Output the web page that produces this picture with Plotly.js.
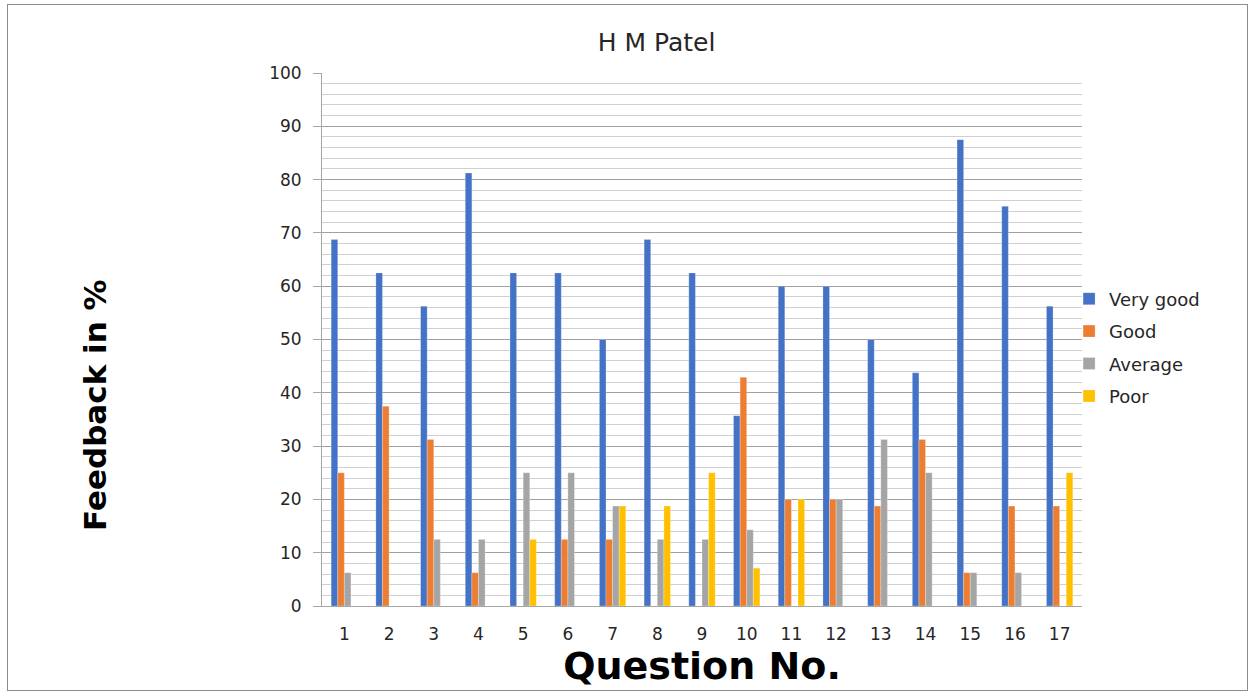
<!DOCTYPE html>
<html>
<head>
<meta charset="utf-8">
<script src="https://cdn.plot.ly/plotly-3.0.1.min.js"></script>
<style>
  html, body { margin: 0; padding: 0; background: #ffffff; }
  #wrap { position: relative; width: 1253px; height: 693px; }
  #chart { width: 1253px; height: 693px; }
  #frame { position: absolute; left: 7px; top: 4px; width: 1239px; height: 685px; border: 1px solid #8c8c8c; pointer-events: none; }
</style>
</head>
<body>
<div id="wrap">
  <div id="chart"></div>
  <div id="frame"></div>
</div>
<script>
const questions = ['1','2','3','4','5','6','7','8','9','10','11','12','13','14','15','16','17'];
const veryGood = [68.75, 62.5, 56.25, 81.25, 62.5, 62.5, 50, 68.75, 62.5, 35.7, 60, 60, 50, 43.75, 87.5, 75, 56.25];
const good     = [25, 37.5, 31.25, 6.25, 0, 12.5, 12.5, 0, 0, 42.9, 20, 20, 18.75, 31.25, 6.25, 18.75, 18.75];
const average  = [6.25, 0, 12.5, 12.5, 25, 25, 18.75, 12.5, 12.5, 14.3, 0, 20, 31.25, 25, 6.25, 6.25, 0];
const poor     = [0, 0, 0, 0, 12.5, 0, 18.75, 18.75, 25, 7.1, 20, 0, 0, 0, 0, 0, 25];

const seriesNames = ['Very good', 'Good', 'Average', 'Poor'];
const seriesColors = ['#4472C4', '#ED7D31', '#A5A5A5', '#FFC000'];
const seriesData = [veryGood, good, average, poor];

const traces = seriesData.map((vals, i) => ({
  type: 'bar',
  name: seriesNames[i],
  x: questions,
  y: vals,
  legendgroup: 'g' + i,
  marker: { color: seriesColors[i], line: { color: 'rgba(255,255,255,0.5)', width: 0.5 } },
  hoverinfo: 'x+y+name'
}));

const layout = {
  width: 1253,
  height: 693,
  margin: { l: 322, r: 171, t: 73, b: 87 },
  paper_bgcolor: '#ffffff',
  plot_bgcolor: '#ffffff',
  font: { family: 'DejaVu Sans, sans-serif', color: '#404040' },
  title: {
    text: 'H M Patel',
    font: { family: 'DejaVu Sans, sans-serif', size: 25, color: '#262626' },
    x: 0.524, xanchor: 'center', xref: 'container',
    y: 1 - 42 / 693, yanchor: 'middle', yref: 'container'
  },
  barmode: 'group',
  bargap: 0.41,
  bargroupgap: 0,
  xaxis: {
    type: 'category',
    showline: true,
    linecolor: '#a6a6a6',
    linewidth: 1,
    ticks: '',
    showgrid: false,
    tickfont: { size: 17, color: '#262626' },
    ticklabelstandoff: 13,
    title: {
      text: 'Question No.',
      font: { family: 'DejaVu Sans, sans-serif', size: 38, color: '#000000', weight: 'bold' },
      standoff: 8
    }
  },
  yaxis: {
    range: [0, 100],
    dtick: 10,
    showline: true,
    linecolor: '#a6a6a6',
    linewidth: 1,
    ticks: 'outside',
    ticklen: 8,
    tickcolor: '#a6a6a6',
    tickfont: { size: 17, color: '#262626' },
    ticklabelstandoff: 8,
    showgrid: true,
    gridcolor: '#a0a0a0',
    gridwidth: 1,
    zeroline: false,
    minor: { dtick: 2, showgrid: true, gridcolor: '#d0d0d0', gridwidth: 1, ticks: '' }
  },
  annotations: [{
    text: 'Feedback in %',
    textangle: -90,
    xref: 'paper', yref: 'paper',
    x: (95 - 322) / 760, y: (606 - 405) / 533,
    xanchor: 'center', yanchor: 'middle',
    showarrow: false,
    font: { family: 'DejaVu Sans, sans-serif', size: 31, color: '#000000', weight: 'bold' }
  }],
  showlegend: true,
  legend: {
    x: 0.983, xanchor: 'left', xref: 'paper',
    y: 0.485, yanchor: 'middle',
    font: { size: 18, color: '#262626' },
    traceorder: 'grouped',
    tracegroupgap: 6,
    bgcolor: 'rgba(0,0,0,0)'
  }
};

Plotly.newPlot('chart', traces, layout, { displayModeBar: false });
</script>
</body>
</html>
